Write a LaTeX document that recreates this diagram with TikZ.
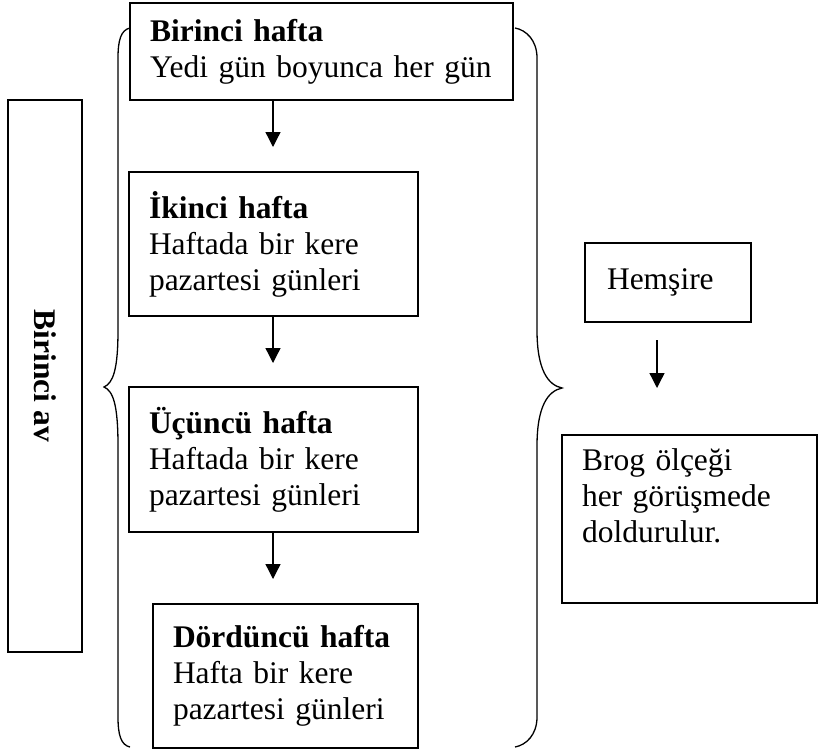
\documentclass[tikz,border=0pt]{standalone}
\usepackage{fontspec}
\setmainfont{Liberation Serif}
\usetikzlibrary{arrows.meta}
\tikzset{
  hbox/.style={draw, line width=1.3pt, align=left, inner xsep=20pt, inner ysep=0pt,
    font=\fontsize{31.5}{36}\selectfont},
  harrow/.style={line width=1.3pt, -{Triangle[width=15pt,length=15pt]}},
  brace/.style={line width=1.3pt}
}

\begin{document}
\begin{tikzpicture}[x=1pt,y=-1pt]
\useasboundingbox (0,0) rectangle (818,755);
%
       \node [hbox, text width=343pt, minimum height=97pt] at (321.5,51.5) (w1) {\textbf{Birinci hafta}\\Yedi gün boyunca her gün};
          \node [hbox, text width=249pt, minimum height=144pt] at (273.5,244) (w2) {\textbf{İkinci hafta}\\Haftada bir kere\\pazartesi günleri};
             \node [hbox, text width=249pt, minimum height=145pt] at (273.5,459.5) (w3) {\textbf{Üçüncü hafta}\\Haftada bir kere\\pazartesi günleri};
                \node [hbox, text width=225pt, minimum height=144pt] at (285.5,676) (w4) {\textbf{Dördüncü hafta}\\Hafta bir kere\\pazartesi günleri};
%
   \node [hbox, font=\fontsize{31.5}{36}\selectfont\bfseries, rotate=-90, inner xsep=0pt, minimum width=552pt, minimum height=74pt] at (45,376) (month) {Birinci av};
%
       \node [hbox, inner xsep=22pt, text width=122pt, minimum height=79pt] at (668,282.5) (nurse) {Hemşire};
          \node [hbox, text width=215pt, minimum height=168pt] at (689.5,519) (brog) {Brog ölçeği\\her görüşmede\\doldurulur.\\\strut};
%
% free arrow ends
\coordinate (t1) at (273,147);
\coordinate (t2) at (273,363);
\coordinate (t3) at (273,579);
\coordinate (ns) at (657,340);
\coordinate (ne) at (657,388);
%
\draw[harrow] (w1.south -| t1) -- (t1);
\draw[harrow] (w2.south -| t2) -- (t2);
\draw[harrow] (w3.south -| t3) -- (t3);
\draw[harrow] (ns) -- (ne);
%
% braces
\draw[brace] (130,28) .. controls (121,30) and (118,40) .. (118,58) -- (118,330)
   .. controls (118,370) and (113,383) .. (104,387) .. controls (113,391) and (118,404) .. (118,446)
   -- (118,717) .. controls (118,735) and (121,745) .. (130,747);
\draw[brace] (515,28) .. controls (526,30) and (537,40) .. (537,58) -- (537,330)
   .. controls (537,370) and (548,385) .. (562,388) .. controls (548,391) and (537,406) .. (537,446)
   -- (537,717) .. controls (537,735) and (526,745) .. (515,747);

\end{tikzpicture}
\end{document}
